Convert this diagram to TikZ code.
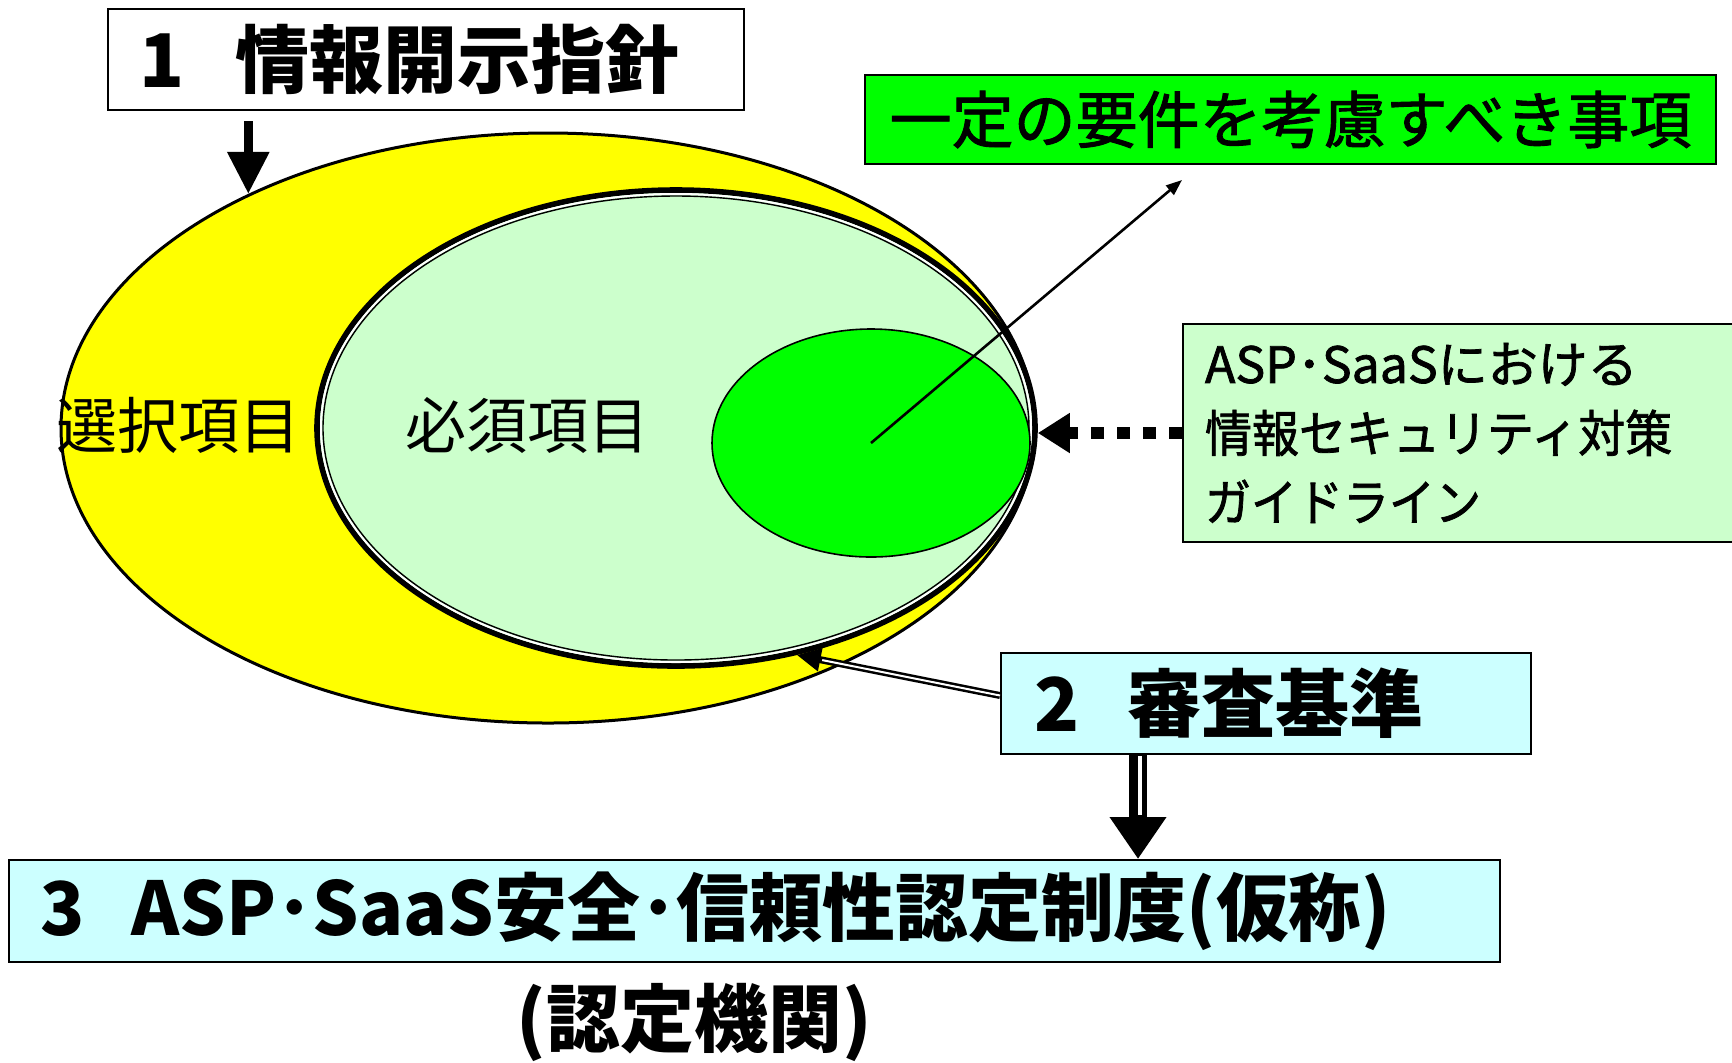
\documentclass[tikz,border=0pt]{standalone}
\usepackage{fontspec}
\usepackage{graphicx}
\setmainfont{Noto Sans CJK JP}
\newfontfamily\jpmed[FakeBold=1.5]{Noto Sans CJK JP}
\usetikzlibrary{arrows.meta,shapes.geometric,calc}
\definecolor{yel}{HTML}{FFFF00}
\definecolor{lgreen}{HTML}{CCFFCC}
\definecolor{vgreen}{HTML}{00FF00}
\definecolor{lcyan}{HTML}{CCFFFF}
\begin{document}
\begin{tikzpicture}[x=0.5pt,y=-0.5pt,
  box/.style={draw=black, line width=1pt, anchor=north west, inner ysep=0pt, align=left},
  oval/.style={ellipse, draw=black, inner sep=0pt},
  bigtitle/.style={font=\fontsize{37}{44}\selectfont\bfseries},
  ovaltext/.style={font=\fontsize{30.5}{36}\selectfont},
  bigarrow/.style={line width=4.5pt, -{Triangle[width=20pt,length=21pt]}},
  thinarrow/.style={line width=1.3pt, -{Triangle[width=6pt,length=8pt]}},
  dotarrow/.style={line width=6pt, dash pattern=on 6.5pt off 6.5pt, -{Triangle[width=19pt,length=16pt]}}
]
\useasboundingbox (0,0) rectangle (1732,1062);

% ovals
\node[oval, fill=yel, line width=1.5pt, minimum width=487pt, minimum height=295pt] (sel) at (548,428) {};
\node[oval, fill=lgreen, line width=2.8pt, minimum width=359pt, minimum height=238pt] (must) at (676,428) {};
\draw[white, line width=1pt] (must.center) ellipse [x radius=355, y radius=234];
\draw[line width=0.7pt] (must.center) ellipse [x radius=353, y radius=232];
\node[oval, fill=vgreen, line width=0.8pt, minimum width=159pt, minimum height=114pt] (req) at (871,443) {};

\node[ovaltext] (tsel) at (178,425) {選択項目};
\node[ovaltext] (tmust) at (527,425) {必須項目};

% boxes
\node[box, fill=white, text width=287pt, inner xsep=15.5pt, minimum height=50.5pt, bigtitle] (b1) at (107,8) {1\hspace{0.7em}情報開示指針};
\node[box, fill=vgreen, text width=405.5pt, inner xsep=10pt, minimum height=44.5pt, align=center, font=\jpmed\fontsize{31}{36}\selectfont] (gbox) at (864,74) {一定の要件を考慮すべき事項};
\node[box, fill=lgreen, text width=264pt, inner xsep=11pt, minimum height=109pt, font=\jpmed\fontsize{25}{34.5}\selectfont] (gl) at (1182,323) {ASP･SaaSにおける\\\scalebox{0.94}[1]{情報セキュリティ対策}\\\scalebox{0.92}[1]{ガイドライン}};
\node[box, fill=lcyan, text width=232pt, inner xsep=16.5pt, minimum height=50.5pt, bigtitle] (b2) at (1000,652) {2\hspace{0.65em}審査基準};
\node[box, fill=lcyan, text width=714.5pt, inner xsep=15.5pt, minimum height=51pt, bigtitle] (b3) at (8,859) {\scalebox{0.985}[1]{3\hspace{0.65em}ASP･SaaS安全･信頼性認定制度(仮称)}};
\node[bigtitle] (auth) at (694,1022) {(認定機関)};

% connectors
\draw[bigarrow] ([yshift=-5pt]sel.142 |- b1.south) -- (sel.142);
\coordinate (a2tip) at (1182,180);
\draw[thinarrow] (req.center) -- (a2tip);
\draw[dotarrow] (gl.west) -- (gl.west -| must.east);

\draw[line width=3.5pt, -{Triangle[width=11pt,length=12pt]}] ([yshift=4pt]b2.west) -- (must.-62);
\draw[white, line width=1pt, shorten >=13pt] ([yshift=4pt]b2.west) -- (must.-62);

\coordinate (d1) at ([xshift=69pt]b2.south west);
\draw[line width=9pt, -{Triangle[width=27pt,length=21pt]}] (d1) -- (d1 |- b3.north);
\draw[white, line width=2pt, shorten >=22pt, shorten <=0.6pt] ([xshift=1pt]d1) -- ([xshift=1pt]d1 |- b3.north);
\end{tikzpicture}
\end{document}
